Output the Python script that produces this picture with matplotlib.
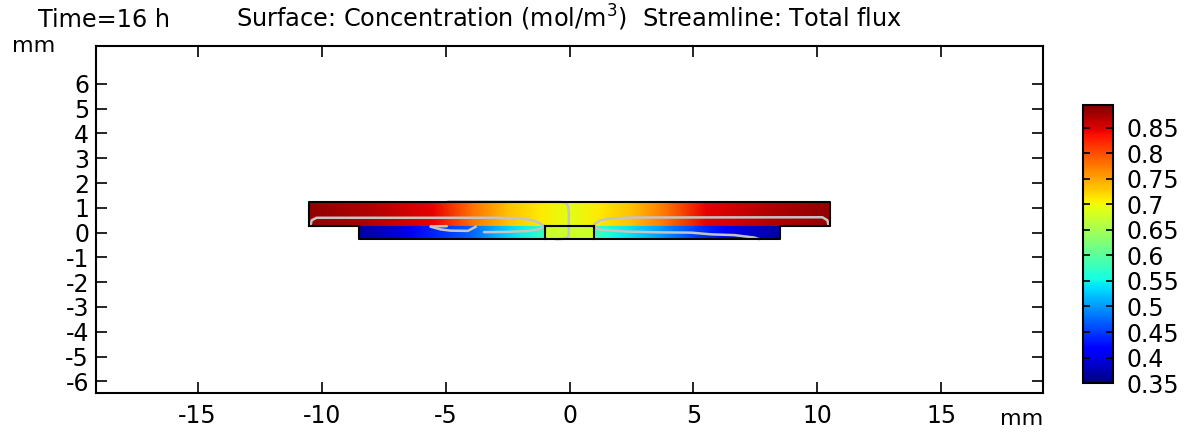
#!/usr/bin/env python3
# -*- coding: utf-8 -*-

import numpy as np
import matplotlib
matplotlib.use('Agg')
import matplotlib.pyplot as plt

# layer geometry (mm)
upper_x0, upper_x1, upper_y0, upper_y1 = -10.5, 10.5, 0.25, 1.25
lower_x0, lower_x1, lower_y0, lower_y1 = -8.5, 8.5, -0.25, 0.25
mid_x0, mid_x1 = -1.0, 1.0

# concentration read along x (mol/m^3)
upper_x = [-10.5, -8.0, -5.5, -3.9, -2.5, -1.2, 0.0, 1.2, 2.5, 3.9, 5.5, 8.0, 10.5]
upper_c = [0.885, 0.87, 0.845, 0.78, 0.735, 0.71, 0.69, 0.71, 0.735, 0.78, 0.845, 0.87, 0.885]
lower_left_x = [-8.5, -6.5, -5.3, -4.0, -3.0, -2.0, -1.0]
lower_left_c = [0.365, 0.40, 0.44, 0.47, 0.51, 0.545, 0.58]
lower_right_x = [1.0, 1.5, 2.4, 3.7, 5.1, 6.3, 7.7, 8.5]
lower_right_c = [0.58, 0.565, 0.54, 0.50, 0.45, 0.405, 0.38, 0.365]
mid_c = 0.675

# streamlines (total flux)
s1_x = [-10.45, -10.4, -10.2, -3.0, -2.0, -1.5, -1.2, -1.02]
s1_y = [0.28, 0.5, 0.6, 0.6, 0.58, 0.5, 0.38, 0.26]
s2_x = [10.45, 10.4, 10.2, 2.4, 1.6, 1.25, 1.05, 0.95]
s2_y = [0.28, 0.5, 0.62, 0.61, 0.56, 0.5, 0.38, 0.26]
s3_x = [-3.45, -2.5, -1.6, -1.25, -1.05]
s3_y = [0.02, 0.03, 0.07, 0.13, 0.24]
s4_x = [-5.6, -5.2, -4.8, -4.1, -3.78]
s4_y = [0.24, 0.13, 0.08, 0.07, 0.24]
s5_x = [-5.6, -4.95]
s5_y = [0.25, 0.26]
s6_x = [0.95, 1.27, 2.35, 3.69, 4.9, 5.71, 6.65, 7.46, 7.66]
s6_y = [0.24, 0.11, 0.04, 0.01, 0.0, -0.07, -0.1, -0.2, -0.27]
s7_x = [-4.9, -2.0, -0.35, -0.15, -0.05, -0.03, -0.03, -0.1, -0.25, -0.55]
s7_y = [1.26, 1.25, 1.24, 1.2, 1.05, 0.8, -0.1, -0.2, -0.25, -0.27]

x_ticks = [-15, -10, -5, 0, 5, 10, 15]
y_ticks = [-6, -5, -4, -3, -2, -1, 0, 1, 2, 3, 4, 5, 6]
cb_ticks = [0.35, 0.4, 0.45, 0.5, 0.55, 0.6, 0.65, 0.7, 0.75, 0.8, 0.85]
cb_labels = ['0.35', '0.4', '0.45', '0.5', '0.55', '0.6', '0.65', '0.7', '0.75', '0.8', '0.85']
c_min, c_max = 0.35, 0.895


def band(xs, cs, y0, y1):
  X = np.array([xs, xs])
  Y = np.array([[y0] * len(xs), [y1] * len(xs)])
  C = np.array([cs, cs])
  return X, Y, C


def main():
  plt.rcParams['font.family'] = 'DejaVu Sans'
  plt.rcParams['axes.unicode_minus'] = False
  fig = plt.figure(figsize=(11.87, 4.32), dpi=100)
  ax = fig.add_axes([0.0809, 0.0903, 0.7978, 0.8032])

  kw = dict(cmap='jet', vmin=c_min, vmax=c_max, shading='gouraud')
  mesh = ax.pcolormesh(*band(upper_x, upper_c, upper_y0, upper_y1), **kw)
  ax.pcolormesh(*band(lower_left_x, lower_left_c, lower_y0, lower_y1), **kw)
  ax.pcolormesh(*band(lower_right_x, lower_right_c, lower_y0, lower_y1), **kw)
  ax.pcolormesh(*band([mid_x0, mid_x1], [mid_c, mid_c], lower_y0, lower_y1), **kw)

  # streamlines
  sl = dict(color='#c4c4c4', lw=1.8, solid_capstyle='round', zorder=3)
  for sx, sy in [(s1_x, s1_y), (s2_x, s2_y), (s3_x, s3_y), (s4_x, s4_y),
                 (s5_x, s5_y), (s6_x, s6_y), (s7_x, s7_y)]:
    ax.plot(sx, sy, **sl)

  # domain outlines
  ox = [upper_x0, upper_x0, upper_x1, upper_x1, lower_x1, lower_x1, lower_x0, lower_x0, upper_x0]
  oy = [upper_y0, upper_y1, upper_y1, upper_y0, upper_y0, lower_y0, lower_y0, lower_y1, upper_y0]
  ax.plot(ox, oy, color='black', lw=1.5, zorder=4)
  ax.plot([mid_x0, mid_x1], [lower_y1, lower_y1], color='black', lw=1.5, zorder=4)
  ax.plot([mid_x0, mid_x0], [lower_y0, lower_y1], color='black', lw=1.5, zorder=4)
  ax.plot([mid_x1, mid_x1], [lower_y0, lower_y1], color='black', lw=1.5, zorder=4)

  ax.set_xlim(-19.1, 19.1)
  ax.set_ylim(-6.47, 7.53)
  ax.set_xticks(x_ticks)
  ax.set_yticks(y_ticks)
  ax.tick_params(direction='in', top=True, right=True, length=8, width=1.2, labelsize=17)
  ax.tick_params(axis='x', pad=8)
  ax.tick_params(axis='y', pad=5)
  for s in ax.spines.values():
    s.set_linewidth(1.5)

  cax = fig.add_axes([0.9124, 0.1134, 0.0253, 0.6435])
  cb = fig.colorbar(mesh, cax=cax, ticks=cb_ticks)
  cb.ax.set_yticklabels(cb_labels)
  cb.ax.tick_params(direction='in', left=True, right=True, length=5, width=1.2, labelsize=17, pad=10)
  cb.outline.set_linewidth(1.5)

  fig.text(569.5 / 1187, 1 - 27 / 432, 'Surface: Concentration (mol/m$^{3}$)  Streamline: Total flux',
           ha='center', va='baseline', fontsize=17.3)
  fig.text(38 / 1187, 1 - 27 / 432, 'Time=16 h', ha='left', va='baseline', fontsize=17.3)
  fig.text(12 / 1187, 1 - 52 / 432, 'mm', ha='left', va='baseline', fontsize=16)
  fig.text(1043 / 1187, 1 - 425 / 432, 'mm', ha='right', va='baseline', fontsize=16)

  fig.savefig('out.png', dpi=100)
  return 0


if __name__ == '__main__':
  main()
